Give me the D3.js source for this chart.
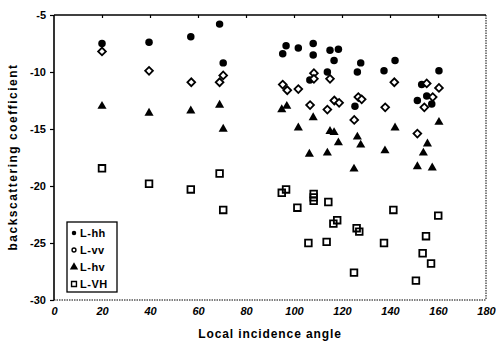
<!DOCTYPE html>
<html>
<head>
<meta charset="utf-8">
<script src="https://cdn.jsdelivr.net/npm/d3@7"></script>
<style>
body { margin: 0; background: #fff; }
svg { display: block; font-family: "Liberation Sans", Arial, sans-serif; }
</style>
</head>
<body>
<svg id="chart" width="496" height="341"></svg>
<script>
// L-hh (filled circles)
var hhX = [20, 39.6, 57, 69, 70.5, 95.3, 96.7, 101.8, 108, 108, 115, 118.5, 116.7, 127.8, 126.4, 113.9, 106.6, 137.5, 142.1, 160.4, 153.2, 151.4, 155.3, 157.4, 125.4];
var hhY = [-7.5, -7.4, -6.9, -5.8, -9.2, -8.4, -7.7, -7.9, -7.5, -8.5, -8.1, -8.0, -9.0, -9.2, -10.0, -10.0, -10.7, -9.9, -9.0, -9.9, -11.1, -12.5, -12.1, -12.8, -13.0];
// L-vv (open diamonds)
var vvX = [20, 39.6, 57.2, 69, 70.5, 95.3, 97.2, 101.8, 108.3, 108.3, 115, 106.7, 113.9, 116.8, 118.8, 126.8, 128.2, 125.1, 138, 141.8, 151.4, 154.3, 155.3, 157.8, 160.4];
var vvY = [-8.2, -9.9, -10.9, -10.9, -10.3, -11.1, -11.6, -11.5, -10.1, -10.6, -10.6, -12.9, -13.3, -12.5, -12.7, -12.2, -12.4, -14.2, -13.1, -10.9, -15.4, -13.1, -11.0, -12.2, -11.4];
// L-hv (filled triangles)
var hvX = [20, 39.6, 57, 69, 70.5, 94.9, 97, 108, 101.8, 115, 116.7, 118.5, 126.4, 127.8, 106.4, 113.9, 125, 142.1, 137.9, 160.4, 155.6, 153.9, 151.4, 157.6];
var hvY = [-13.0, -13.6, -13.4, -12.9, -15.0, -13.3, -13.0, -14.0, -14.9, -15.2, -15.3, -16.2, -15.7, -16.4, -17.2, -17.1, -18.5, -14.9, -16.9, -14.4, -16.3, -17.1, -18.3, -18.4];
// L-VH (open squares)
var vhX = [20, 39.6, 57, 69, 70.5, 94.9, 96.7, 108.2, 108.2, 108.2, 114.3, 101.4, 118, 116.4, 126.1, 127.2, 106, 113.6, 125, 141.4, 160.1, 137.5, 155, 153.6, 157.1, 150.8];
var vhY = [-18.45, -19.8, -20.3, -18.9, -22.1, -20.6, -20.3, -20.7, -21.0, -21.3, -21.4, -21.9, -23.0, -23.3, -23.7, -24.0, -25.0, -24.9, -27.6, -22.1, -22.6, -25.0, -24.4, -25.9, -26.8, -28.3];

var xTicks = [0, 20, 40, 60, 80, 100, 120, 140, 160, 180];
var yTicks = [-5, -10, -15, -20, -25, -30];
var legendLabels = ["L-hh", "L-vv", "L-hv", "L-VH"];

var plotL = 54, plotR = 486, plotT = 15, plotB = 300;

var svg = d3.select("#chart");
var x = d3.scaleLinear().domain([0, 180]).range([plotL, plotR]);
var y = d3.scaleLinear().domain([-30, -5]).range([plotB, plotT]);

// frame: solid left and top, dotted right and bottom
svg.append("line").attr("x1", plotL).attr("y1", plotT).attr("x2", plotL).attr("y2", plotB)
    .attr("stroke", "#000").attr("stroke-width", 1.6);
svg.append("line").attr("x1", plotL).attr("y1", plotT).attr("x2", plotR).attr("y2", plotT)
    .attr("stroke", "#000").attr("stroke-width", 1.6);
svg.append("line").attr("x1", plotR).attr("y1", plotT).attr("x2", plotR).attr("y2", plotB)
    .attr("stroke", "#000").attr("stroke-width", 1).attr("stroke-dasharray", "1.5,1");
svg.append("line").attr("x1", plotL).attr("y1", plotB).attr("x2", plotR).attr("y2", plotB)
    .attr("stroke", "#000").attr("stroke-width", 1).attr("stroke-dasharray", "1.5,1");

// y axis
var yAxis = svg.append("g").attr("transform", "translate(" + plotL + ",0)")
    .call(d3.axisLeft(y).tickValues(yTicks).tickSize(4).tickPadding(4).tickFormat(d3.format("d")));
yAxis.select(".domain").remove();
yAxis.selectAll("line").attr("stroke-width", 1.2);
yAxis.selectAll("text").attr("font-size", 11).attr("font-weight", "bold")
    .attr("font-family", "Liberation Sans, Arial, sans-serif").text(function(d){ return "-" + Math.abs(d); });

// top ticks
var topAxis = svg.append("g").attr("transform", "translate(0," + plotT + ")")
    .call(d3.axisBottom(x).tickValues(xTicks.slice(1, -1)).tickSize(3).tickFormat(""));
topAxis.select(".domain").remove();
topAxis.selectAll("line").attr("stroke-width", 1.2);

// x labels
var xAxis = svg.append("g").attr("transform", "translate(0," + plotB + ")")
    .call(d3.axisBottom(x).tickValues(xTicks).tickSize(0).tickPadding(7).tickFormat(d3.format("d")));
xAxis.select(".domain").remove();
xAxis.selectAll("text").attr("font-size", 11).attr("font-weight", "bold").attr("font-style", "italic")
    .attr("font-family", "Liberation Sans, Arial, sans-serif");

// titles
svg.append("text").attr("x", 270).attr("y", 338).attr("text-anchor", "middle")
    .attr("font-size", 12).attr("font-weight", "bold").attr("letter-spacing", 0.9)
    .text("Local incidence angle");
svg.append("text").attr("transform", "translate(17,157) rotate(-90)").attr("text-anchor", "middle")
    .attr("font-size", 12).attr("font-weight", "bold").attr("letter-spacing", 1.5)
    .text("backscattering coefficient");

// marks
var series = [
    {xs: hhX, ys: hhY, type: d3.symbolCircle, size: 44, fill: "#000", stroke: "none", rot: 0},
    {xs: vvX, ys: vvY, type: d3.symbolSquare, size: 30, fill: "#fff", stroke: "#000", rot: 45},
    {xs: hvX, ys: hvY, type: d3.symbolTriangle, size: 36, fill: "#000", stroke: "none", rot: 0},
    {xs: vhX, ys: vhY, type: d3.symbolSquare, size: 44, fill: "none", stroke: "#000", rot: 0}
];

series.forEach(function(s){
    var pts = d3.range(s.xs.length).map(function(i){ return [s.xs[i], s.ys[i]]; });
    svg.append("g").selectAll("path").data(pts).enter().append("path")
        .attr("d", d3.symbol().type(s.type).size(s.size))
        .attr("transform", function(d){ return "translate(" + x(d[0]) + "," + y(d[1]) + ") rotate(" + s.rot + ")"; })
        .attr("fill", s.fill)
        .attr("stroke", s.stroke)
        .attr("stroke-width", 1.8);
});

// legend
var lg = svg.append("g").attr("transform", "translate(67,222)");
lg.append("rect").attr("x", 0).attr("y", 0).attr("width", 50).attr("height", 70)
    .attr("fill", "#fff").attr("stroke", "#000").attr("stroke-width", 1.3);
var legendSym = [
    {type: d3.symbolCircle, size: 16, fill: "#000", stroke: "none"},
    {type: d3.symbolCircle, size: 12, fill: "#fff", stroke: "#000"},
    {type: d3.symbolTriangle, size: 30, fill: "#000", stroke: "none"},
    {type: d3.symbolSquare, size: 24, fill: "none", stroke: "#000"}
];
legendLabels.forEach(function(t, i){
    var yy = 11 + i * 17;
    lg.append("path").attr("d", d3.symbol().type(legendSym[i].type).size(legendSym[i].size))
        .attr("transform", "translate(7," + yy + ")")
        .attr("fill", legendSym[i].fill).attr("stroke", legendSym[i].stroke).attr("stroke-width", 1.4);
    lg.append("text").attr("x", 13).attr("y", yy + 4).attr("font-size", 11)
        .attr("font-weight", 600).attr("letter-spacing", 0.5).text(t);
});
</script>
</body>
</html>
